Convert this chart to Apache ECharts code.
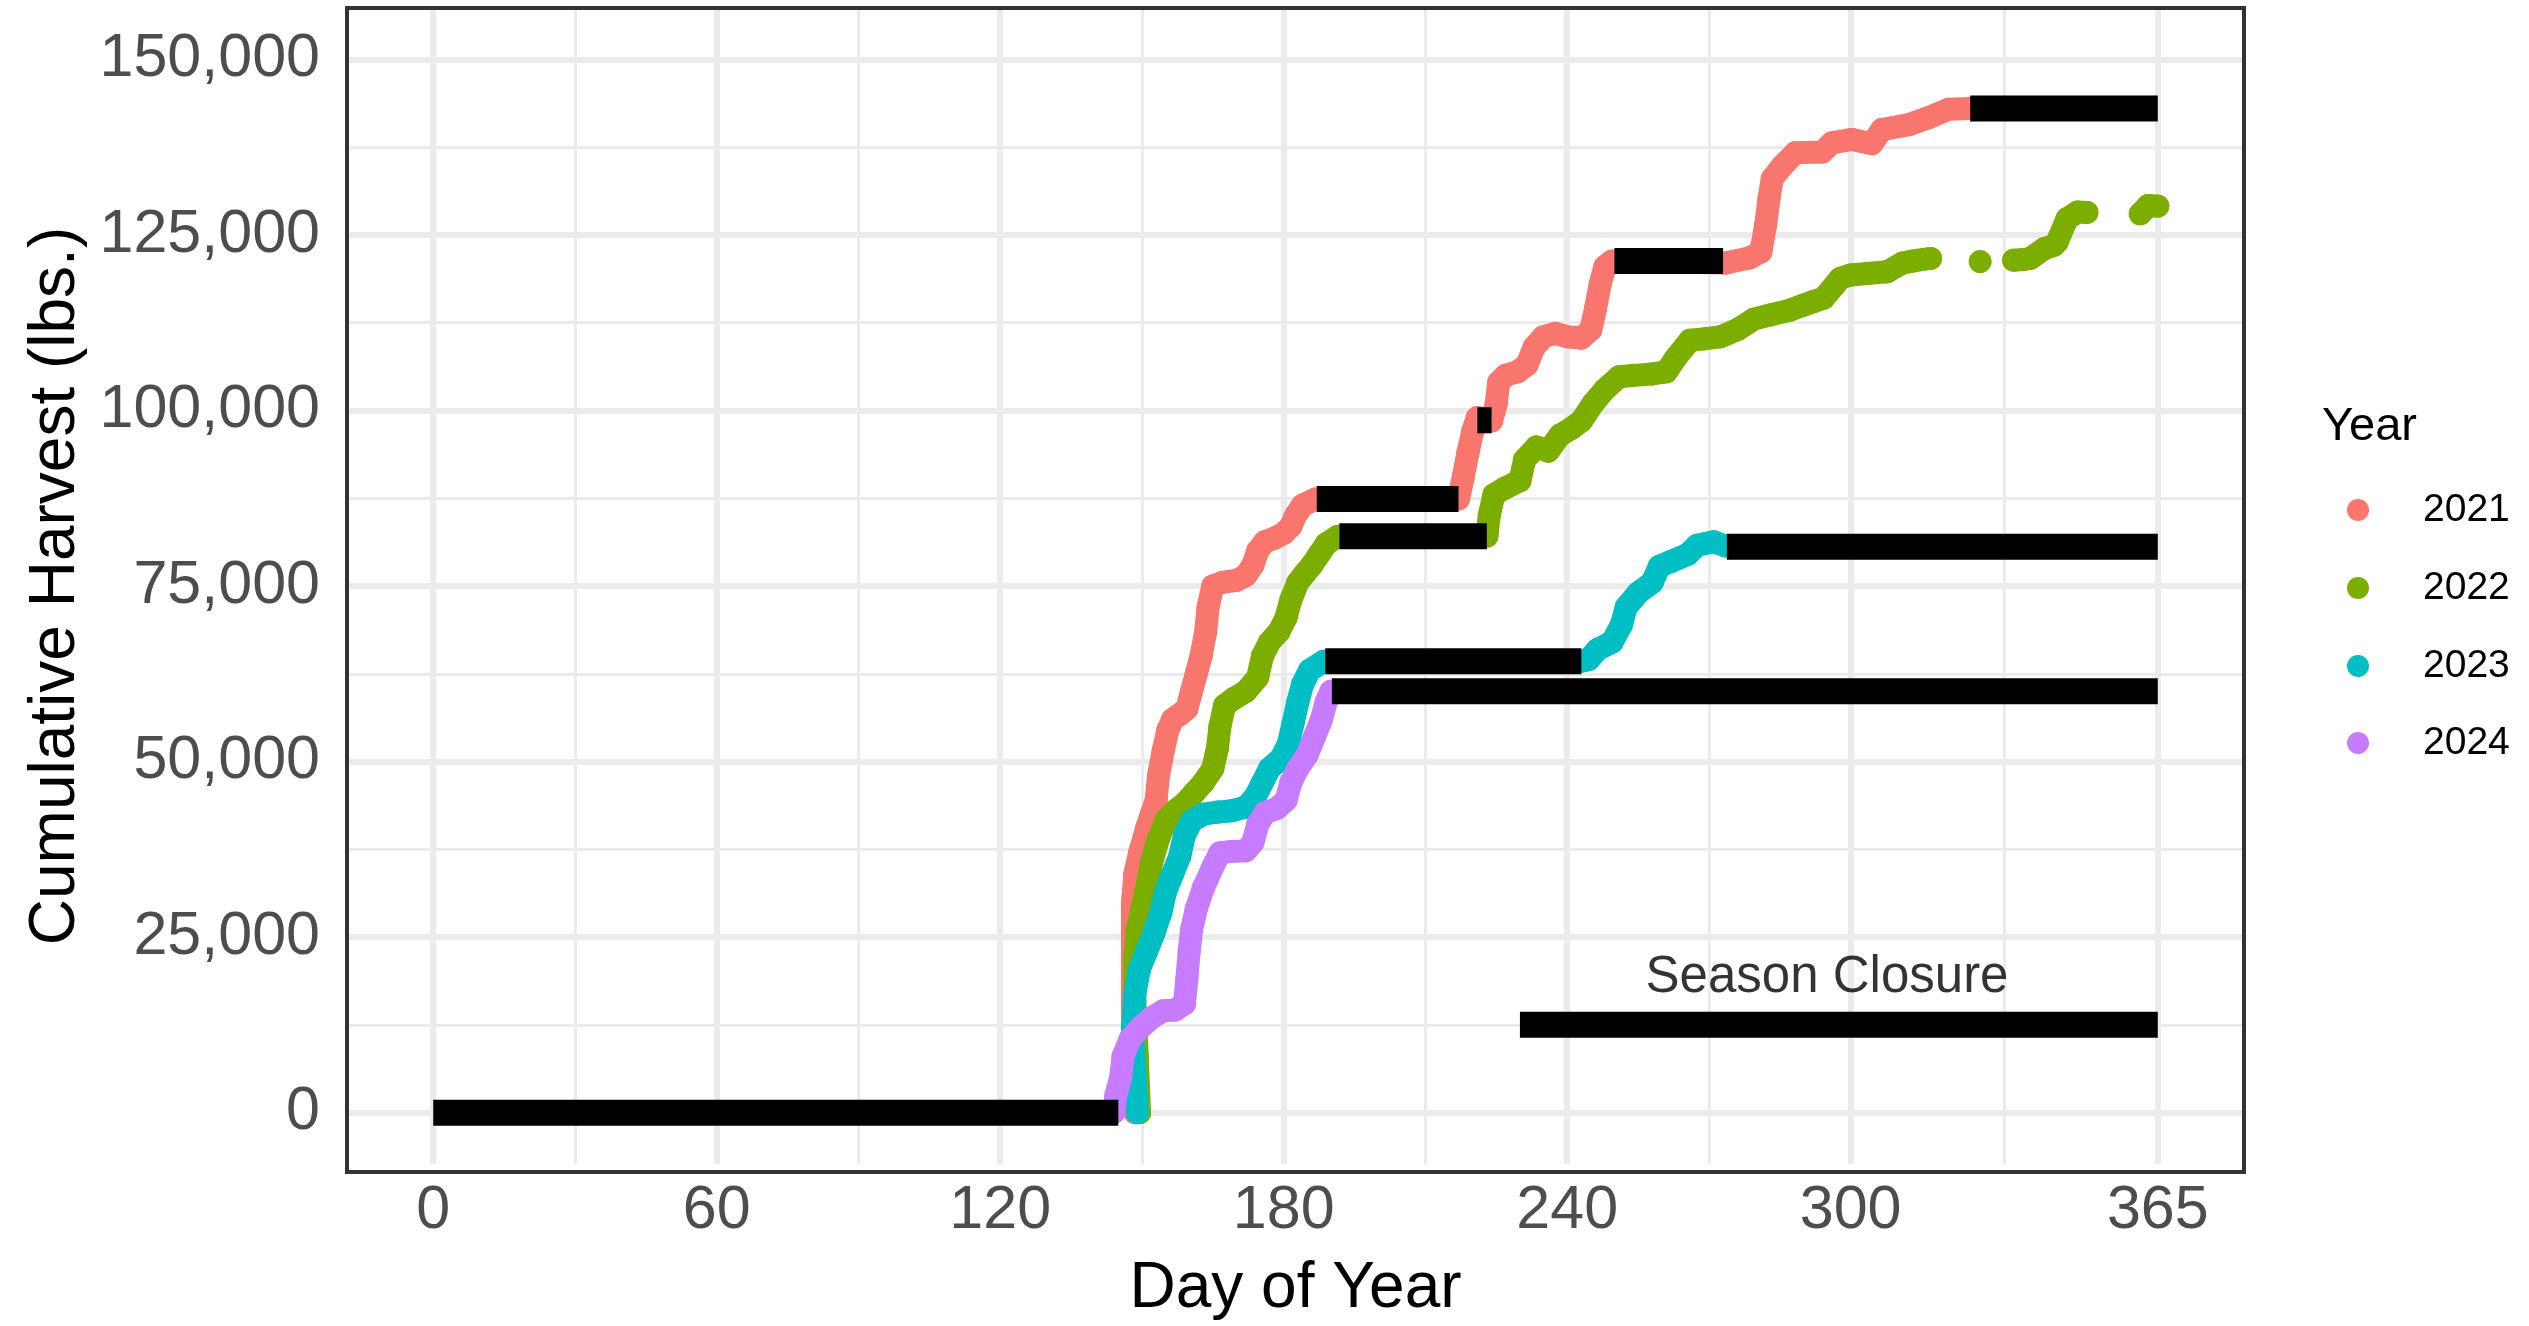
<!DOCTYPE html>
<html>
<head>
<meta charset="utf-8">
<script src="https://cdn.jsdelivr.net/npm/echarts@6/dist/echarts.min.js"></script>
<style>
html,body{margin:0;padding:0;background:#ffffff;}
#chart{width:2529px;height:1326px;}
</style>
</head>
<body>
<div id="chart"></div>
<script>
// ---------------- data ----------------
const years = ['2021', '2022', '2023', '2024'];
const yearColors = ['#F8766D', '#7CAE00', '#00BFC4', '#C77CFF'];

const days2021 = [148.5,148,148,148,148,148.5,149.5,151,152,153,153.5,154.5,155.5,156.5,158,159.5,160.5,161.5,162.5,163.5,164,165,167,170,172,173.5,174.5,176,178,180,181.5,182.5,184,186.8,
  217,218,219,220,221,224,225,225.5,227,229.5,231.5,233,235,237.5,240,243,245,246,247,248,249.5,
  273.5,278.5,281,282,282.7,283.4,285.5,288.3,294,296,300.3,304.5,306.6,312.3,316.5,320.7,325.3];
const cum2021 = [0,8000,16000,24000,30000,34000,37000,40500,42500,44500,48000,51500,54500,56000,56700,57500,60000,62500,65000,68500,72000,75000,75500,75800,76500,78000,80000,81300,81800,82500,83500,85000,86500,87400,
  87400,90500,94000,97000,99000,98500,101000,104000,105000,105500,106500,109000,110500,111000,110500,110300,111500,114500,118000,120500,121300,
  121000,121700,122600,126400,130100,133000,134800,136700,136800,138100,138600,138000,140000,140700,141700,142900,143000];

const days2022 = [149.5,149,148.5,148.5,149,150,151,152,153.5,155,157,159,161,163,165,166,166.5,167.5,169.5,172,174.5,175.5,177,179,180.5,181.5,183,184.5,186,187.5,189,191.5,
  223,223.5,224.5,227,230,231,233.5,236,238.5,241,243,245.5,248,251,254,258,261,263,266,269,272.5,276,279.5,283,287.2,290,292.1,294.3,297.8,300,303.5,307.7,311,313.3,316.9,
  null,325.3,327.4,null,332,334.5,336.6,338,341,343,343.7,345.8,348,350,null,359.2,361.3,363,365];
const cum2022 = [0,8000,16000,22000,26000,29000,32000,35500,39000,41500,43000,44000,45500,47000,49000,52000,55000,58000,59000,60000,62000,65000,67000,68500,70500,73000,75500,76800,78000,79500,81000,82100,
  82100,85000,88000,89000,90000,93000,94800,94200,96500,97500,98500,101000,103000,104800,105000,105200,105500,107500,110000,110200,110500,111500,113000,113600,114300,115000,115500,116000,118800,119300,119500,119750,121000,121300,121650,121600,
  null,121200,121400,null,121400,121500,121650,123050,123500,124000,127300,128250,128200,128000,null,128000,129200,129100,129000];

const days2023 = [149,148.5,148,148.5,149.5,151,152.5,154,155,156.5,158,159,160.5,163,166,169,172,174,175.5,177,179.5,181,182,183,184,185.5,188.5,
  243,244.5,246.5,249.5,251.5,252.5,255,258,259.5,262,265.5,267.5,271,273.5];
const cum2023 = [0,6000,12000,17000,20500,23000,25500,28500,31500,34000,36500,39500,41500,42500,42800,43000,43500,45000,47000,49000,50500,52500,55500,58500,61000,63000,64300,
  64300,64500,66000,67000,69500,72000,74000,75500,77800,78500,79500,80800,81300,80700];

const days2024 = [144,144.5,145.5,146,147.5,149.5,152,154.5,157,159,159.5,160,160.5,161.5,163,165,166.5,169,172,173.5,174.5,176,178.5,180.5,181.5,183,185,186.5,188,189,190];
const cum2024 = [0,2500,5000,8000,10500,12000,13500,14500,14600,15500,19000,23000,26000,29000,32000,35000,37000,37200,37300,38500,41000,42700,43300,44500,47000,49000,51000,53500,56000,58500,60000];

// season closure segments (start day, end day, cumulative level)
const closureStart = [0, 187, 221, 250, 325.3, 191.8, 188.8, 273.8, 190.2];
const closureEnd   = [145, 217, 224, 273, 365, 223, 243, 365, 365];
const closureLevel = [0, 87400, 98600, 121300, 143000, 82100, 64300, 80600, 60000];

// key bar + label
const keyStart = 230, keyEnd = 365, keyLevel = 12500;
const keyLabel = 'Season Closure';
const keyLabelDay = 295, keyLabelLevel = 19200;

// axes
const xBreaks = [0, 60, 120, 180, 240, 300, 365];
const xMinor = [30, 90, 150, 210, 270, 332.5];
const yBreaks = [0, 25000, 50000, 75000, 100000, 125000, 150000];
const yMinor = [12500, 37500, 62500, 87500, 112500, 137500];

const xTitle = 'Day of Year';
const yTitle = 'Cumulative Harvest (lbs.)';
const legendTitle = 'Year';

// ---------------- build ----------------
const FONT = "'Liberation Sans', Arial, Helvetica, sans-serif";
const seriesDays = [days2021, days2022, days2023, days2024];
const seriesCum = [cum2021, cum2022, cum2023, cum2024];

function zip(d, v) {
  const out = [];
  for (let i = 0; i < d.length; i++) {
    if (d[i] === null || v[i] === null) out.push(['-', '-']);
    else out.push([d[i], v[i]]);
  }
  return out;
}

const grid = { left: 347, right: 285, top: 8, bottom: 154 };

const gridLines = [];
xMinor.forEach(v => gridLines.push({ xAxis: v, lineStyle: { color: '#EBEBEB', width: 3, type: 'solid' } }));
yMinor.forEach(v => gridLines.push({ yAxis: v, lineStyle: { color: '#EBEBEB', width: 3, type: 'solid' } }));
xBreaks.forEach(v => gridLines.push({ xAxis: v, lineStyle: { color: '#EBEBEB', width: 6, type: 'solid' } }));
yBreaks.forEach(v => gridLines.push({ yAxis: v, lineStyle: { color: '#EBEBEB', width: 6, type: 'solid' } }));

const series = [];
series.push({
  type: 'line', name: 'grid', data: [], silent: true, z: 1,
  markLine: {
    silent: true, z: 1, animation: false,
    symbol: ['none', 'none'], label: { show: false },
    emphasis: { disabled: true },
    data: gridLines
  }
});

years.forEach((y, i) => {
  series.push({
    type: 'line', name: y,
    data: zip(seriesDays[i], seriesCum[i]),
    connectNulls: false,
    symbol: 'circle', symbolSize: 23, showSymbol: true, showAllSymbol: true,
    itemStyle: { color: yearColors[i] },
    lineStyle: { color: yearColors[i], width: 23, cap: 'round', join: 'round' },
    emphasis: { disabled: true },
    animation: false, z: 2 + i * 0.01, silent: true
  });
});

for (let k = 0; k < closureStart.length; k++) {
  series.push({
    type: 'line', name: 'closure' + k,
    data: [[closureStart[k], closureLevel[k]], [closureEnd[k], closureLevel[k]]],
    symbol: 'none', showSymbol: false,
    lineStyle: { color: '#000000', width: 26, cap: 'butt' },
    emphasis: { disabled: true }, animation: false, z: 5, silent: true
  });
}
series.push({
  type: 'line', name: 'key',
  data: [[keyStart, keyLevel], [keyEnd, keyLevel]],
  symbol: 'none', showSymbol: false,
  lineStyle: { color: '#000000', width: 26, cap: 'butt' },
  emphasis: { disabled: true }, animation: false, z: 5, silent: true
});
series.push({
  type: 'scatter', name: 'keyLabel',
  data: [[keyLabelDay, keyLabelLevel]],
  symbolSize: 1, itemStyle: { color: 'rgba(0,0,0,0)' },
  label: { show: true, position: 'inside', formatter: keyLabel, color: '#000000', fontSize: 51, fontFamily: FONT },
  emphasis: { disabled: true }, animation: false, z: 6, silent: true
});

const legendGraphics = [];
legendGraphics.push({
  type: 'text', left: 2322, top: 404, z: 100,
  style: { text: legendTitle, fill: '#000000', font: '47px ' + FONT }
});
const legendCy = [510, 588, 666, 743];
years.forEach((y, i) => {
  legendGraphics.push({
    type: 'circle', z: 100,
    shape: { cx: 2358, cy: legendCy[i], r: 11 },
    style: { fill: yearColors[i] }
  });
  legendGraphics.push({
    type: 'text', z: 100, x: 2423, y: legendCy[i],
    style: { text: y, fill: '#000000', font: '39px ' + FONT, verticalAlign: 'middle', align: 'left' }
  });
});
legendGraphics.push({
  type: 'rect', z: 100, silent: true,
  shape: { x: 347, y: 8, width: 2529 - 347 - 285, height: 1326 - 8 - 154 },
  style: { fill: 'none', stroke: '#333333', lineWidth: 4 }
});

const option = {
  backgroundColor: '#ffffff',
  animation: false,
  grid: grid,
  xAxis: {
    type: 'value', min: -18.25, max: 383.25,
    axisLine: { show: false },
    splitLine: { show: false },
    axisTick: { show: true, customValues: xBreaks, length: 12, lineStyle: { color: '#333333', width: 4.5 } },
    axisLabel: { customValues: xBreaks, fontSize: 61, color: '#4D4D4D', margin: 17, fontFamily: FONT },
    name: xTitle, nameLocation: 'middle', nameGap: 93,
    nameTextStyle: { fontSize: 64, color: '#000000', fontFamily: FONT }
  },
  yAxis: {
    type: 'value', min: -7316, max: 157316,
    axisLine: { show: false },
    splitLine: { show: false },
    axisTick: { show: true, customValues: yBreaks, length: 12, lineStyle: { color: '#333333', width: 4.5 } },
    axisLabel: {
      customValues: yBreaks, fontSize: 61, color: '#4D4D4D', margin: 27, fontFamily: FONT,
      formatter: v => Number(v).toLocaleString('en-US')
    },
    name: yTitle, nameLocation: 'middle', nameGap: 258, nameRotate: 90,
    nameTextStyle: { fontSize: 64, color: '#000000', fontFamily: FONT }
  },
  graphic: legendGraphics,
  series: series
};

const chart = echarts.init(document.getElementById('chart'), null, { renderer: 'canvas', width: 2529, height: 1326 });
chart.setOption(option);
</script>
</body>
</html>
